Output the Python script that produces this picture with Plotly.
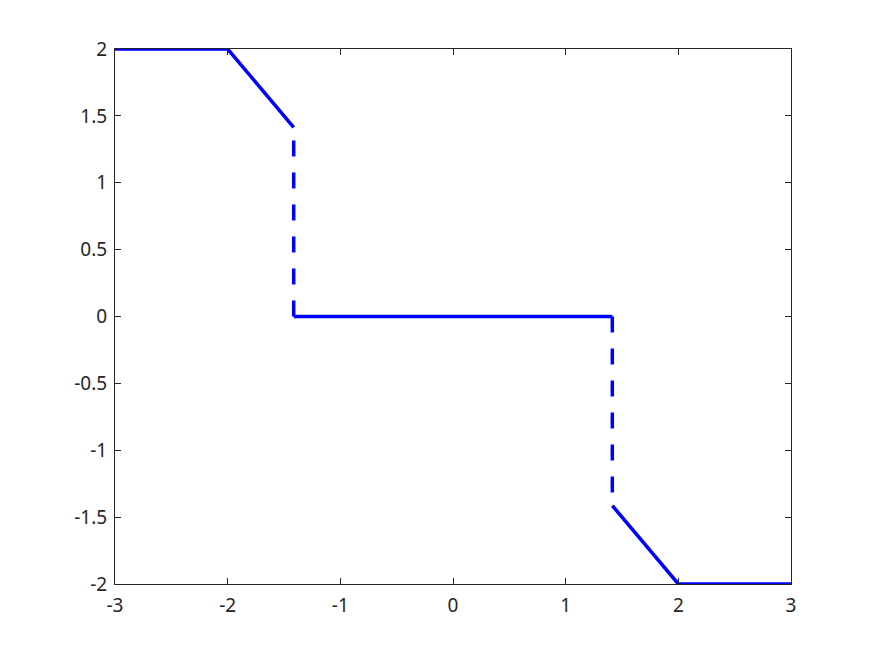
import plotly.graph_objects as go

# solid pieces
x_left = [-3, -2, -1.414]
y_left = [2, 2, 1.414]
x_mid = [-1.414, 1.414]
y_mid = [0, 0]
x_right = [1.414, 2, 3]
y_right = [-1.414, -2, -2]
# dashed jumps (drawn starting from y=0)
x_jump1 = [-1.414, -1.414]
y_jump1 = [0, 1.414]
x_jump2 = [1.414, 1.414]
y_jump2 = [0, -1.414]

x_ticks = [-3, -2, -1, 0, 1, 2, 3]
y_ticks = [-2, -1.5, -1, -0.5, 0, 0.5, 1, 1.5, 2]

fig = go.Figure()
solid = dict(color='#0000ff', width=3.5)
dashed = dict(color='#0000ff', width=3.5, dash='16px,16px')
for xs, ys in [(x_left, y_left), (x_mid, y_mid), (x_right, y_right)]:
    fig.add_scatter(x=xs, y=ys, mode='lines', line=solid, showlegend=False)
for xs, ys in [(x_jump1, y_jump1), (x_jump2, y_jump2)]:
    fig.add_scatter(x=xs, y=ys, mode='lines', line=dashed, showlegend=False)

axis = dict(showline=True, linewidth=1, linecolor='#262626', mirror='ticks',
            ticks='inside', ticklen=6, tickcolor='#262626', showgrid=False,
            zeroline=False, tickfont=dict(family='Noto Sans', size=19, color='#262626'))
fig.update_xaxes(range=[-3, 3], tickvals=x_ticks, ticktext=[str(v) for v in x_ticks],
                 ticklabelstandoff=4, **axis)
fig.update_yaxes(range=[-2, 2], tickvals=y_ticks, ticktext=[f'{v:g}' for v in y_ticks],
                 ticklabelstandoff=3, **axis)

fig.update_layout(width=875, height=656, plot_bgcolor='white', paper_bgcolor='white',
                  margin=dict(l=107, r=92, t=41, b=80))
fig.write_html("out.html")
